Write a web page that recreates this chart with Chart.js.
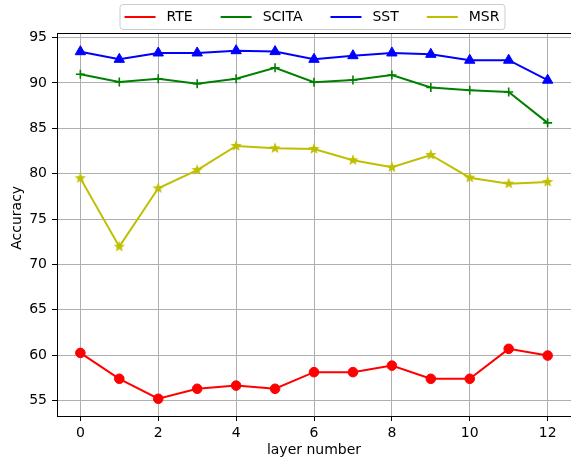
<!DOCTYPE html>
<html>
<head>
<meta charset="utf-8">
<script src="https://cdn.jsdelivr.net/npm/chart.js@4/dist/chart.umd.min.js"></script>
<style>
  body { margin: 0; background: #fff; }
  canvas { display: block; }
</style>
</head>
<body>
<canvas id="accChart" width="571" height="462"></canvas>
<script>
const layers = [0, 1, 2, 3, 4, 5, 6, 7, 8, 9, 10, 11, 12];
const rte   = [60.25, 57.4, 55.2, 56.3, 56.65, 56.3, 58.13, 58.13, 58.85, 57.4, 57.4, 60.7, 59.96];
const scita = [90.95, 90.1, 90.46, 89.9, 90.46, 91.67, 90.07, 90.32, 90.87, 89.5, 89.2, 89.0, 85.6];
const sst   = [93.44, 92.6, 93.3, 93.3, 93.55, 93.45, 92.6, 93.0, 93.3, 93.15, 92.5, 92.5, 90.3];
const msr   = [79.5, 71.96, 78.39, 80.4, 83.05, 82.8, 82.72, 81.48, 80.7, 82.06, 79.56, 78.9, 79.09];
const xTicks = [0, 2, 4, 6, 8, 10, 12];
const yTicks = [55, 60, 65, 70, 75, 80, 85, 90, 95];

Chart.defaults.font.family = 'DejaVu Sans';
Chart.defaults.font.size = 14;
Chart.defaults.color = '#000';

// filled five point star like matplotlib's '*'
function starMarker(color, r) {
  const c = document.createElement('canvas');
  const s = Math.ceil(r * 2 + 2);
  c.width = s; c.height = s;
  const g = c.getContext('2d');
  g.fillStyle = color;
  g.beginPath();
  for (let i = 0; i < 10; i++) {
    const rad = i % 2 === 0 ? r : r * 0.42;
    const a = -Math.PI / 2 + i * Math.PI / 5;
    const px = s / 2 + rad * Math.cos(a);
    const py = s / 2 + rad * Math.sin(a);
    if (i === 0) g.moveTo(px, py); else g.lineTo(px, py);
  }
  g.closePath();
  g.fill();
  return c;
}

function series(label, values, color, style, radius) {
  return {
    label: label,
    data: values.map((v, i) => ({ x: layers[i], y: v })),
    borderColor: color,
    backgroundColor: color,
    pointBackgroundColor: color,
    pointBorderColor: color,
    borderWidth: 2,
    pointBorderWidth: style === 'cross' ? 1.6 : 1,
    pointStyle: style,
    pointRadius: radius,
    pointHoverRadius: radius,
    tension: 0
  };
}

const legendBox = {
  id: 'legendBox',
  afterDraw(chart) {
    const ctx = chart.ctx;
    const area = chart.chartArea;
    const sets = chart.data.datasets;
    const handle = 31, gap = 11, colGap = 28, pad = 5;
    ctx.save();
    ctx.font = '14px "DejaVu Sans"';
    const widths = sets.map(d => handle + gap + ctx.measureText(d.label).width);
    const total = widths.reduce((a, b) => a + b, 0) + colGap * (sets.length - 1) + pad * 2;
    const cx = (area.left + area.right) / 2 - 2;
    const x0 = cx - total / 2, y0 = 4, h = 25;
    ctx.fillStyle = 'rgba(255,255,255,0.8)';
    ctx.strokeStyle = '#cccccc';
    ctx.lineWidth = 1;
    ctx.beginPath();
    ctx.roundRect(x0 + 0.5, y0 + 0.5, total, h, 3);
    ctx.fill();
    ctx.stroke();
    let x = x0 + pad;
    const yMid = y0 + h / 2 + 0.5;
    sets.forEach((d, i) => {
      ctx.strokeStyle = d.borderColor;
      ctx.lineWidth = 2;
      ctx.beginPath();
      ctx.moveTo(x, yMid);
      ctx.lineTo(x + handle, yMid);
      ctx.stroke();
      ctx.fillStyle = '#000';
      ctx.textBaseline = 'middle';
      ctx.textAlign = 'left';
      ctx.fillText(d.label, x + handle + gap, yMid);
      x += widths[i] + colGap;
    });
    // top spine
    ctx.strokeStyle = '#000';
    ctx.lineWidth = 1;
    ctx.beginPath();
    ctx.moveTo(area.left, area.top + 0.5);
    ctx.lineTo(area.right, area.top + 0.5);
    ctx.stroke();
    ctx.restore();
  }
};

new Chart(document.getElementById('accChart').getContext('2d'), {
  type: 'line',
  data: {
    datasets: [
      series('RTE', rte, '#ff0000', 'circle', 4.8),
      series('SCITA', scita, '#008000', 'cross', 4.5),
      series('SST', sst, '#0000ff', 'triangle', 6),
      series('MSR', msr, '#bfbf00', starMarker('#bfbf00', 6), 5.5)
    ]
  },
  options: {
    responsive: false,
    devicePixelRatio: 1,
    animation: false,
    layout: {
      autoPadding: false,
      padding: { top: 33, right: 0, left: 0, bottom: 0 }
    },
    plugins: {
      legend: { display: false },
      tooltip: { enabled: false }
    },
    scales: {
      x: {
        type: 'linear',
        min: -0.6,
        max: 12.6,
        afterBuildTicks: s => { s.ticks = xTicks.map(v => ({ value: v })); },
        afterFit: s => { s.height = 46; },
        ticks: { padding: 4, maxRotation: 0 },
        grid: { color: '#b0b0b0', lineWidth: 1, tickColor: '#000', tickLength: 5 },
        border: { color: '#000', width: 1 },
        title: { display: true, text: 'layer number', padding: { top: 0, bottom: 3 } }
      },
      y: {
        min: 53.3,
        max: 95.5,
        afterBuildTicks: s => { s.ticks = yTicks.map(v => ({ value: v })); },
        afterFit: s => { s.width = 57; },
        ticks: { padding: 5 },
        grid: { color: '#b0b0b0', lineWidth: 1, tickColor: '#000', tickLength: 5 },
        border: { color: '#000', width: 1 },
        // leading spaces nudge the rotated label up a little, as in the original
        title: { display: true, text: '   Accuracy', padding: { top: 9, bottom: 0 } }
      }
    }
  },
  plugins: [legendBox]
});
</script>
</body>
</html>
